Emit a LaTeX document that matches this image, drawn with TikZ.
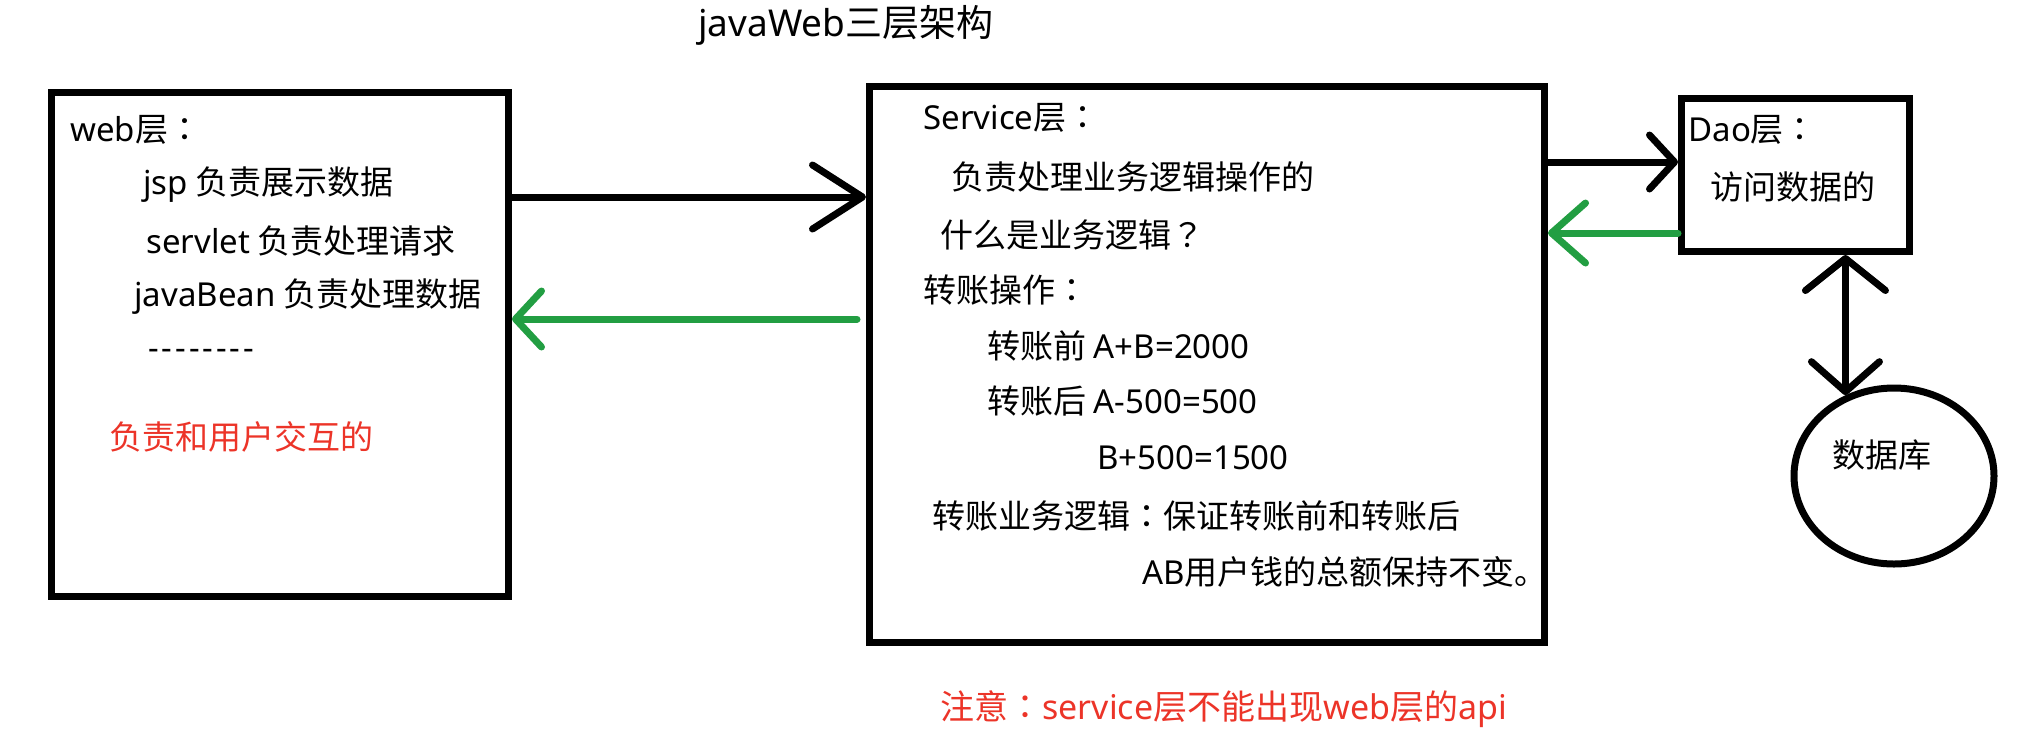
\documentclass[tikz,border=0pt]{standalone}
\usepackage{fontspec}
\setmainfont{Noto Sans CJK SC}
\newfontfamily\latinfont{Noto Sans}
\newfontfamily\punctfont{Noto Sans CJK TC}
\newcommand{\en}[1]{{\latinfont #1}}
\newcommand{\zhcolon}{{\punctfont ：}}
\newcommand{\zhquest}{{\punctfont ？}}
\usepackage{tikz}
\usetikzlibrary{arrows.meta, positioning, shapes, calc}

\definecolor{backgreen}{RGB}{34,158,66}
\definecolor{notered}{RGB}{236,52,40}

\begin{document}
\begin{tikzpicture}[
    x=0.5pt, y=-0.5pt,
    font=\fontsize{16.5}{19}\selectfont,
    layer/.style={rectangle, draw, line width=3.5pt},
    txt/.style={anchor=west, inner sep=0pt},
    flow/.style={line width=3.5pt, line cap=round},
    back/.style={flow, backgreen}
]
    \useasboundingbox (0,0) rectangle (2024,735);

    % Title
    \node[txt, font=\fontsize{18.5}{21}\selectfont] (title) at (698,25) {\en{javaWeb}三层架构};

    % Layers (rectangles) and the database (ellipse)
    \node[layer, minimum width=228.5pt, minimum height=252pt] (web) at (280,344.5) {};
    \node[layer, minimum width=337.5pt, minimum height=278pt] (svc) at (1207,364.5) {};
    \node[layer, minimum width=114pt, minimum height=76.5pt] (dao) at (1795.5,175) {};
    \node[ellipse, draw, line width=3.5pt, minimum width=100pt, minimum height=88pt]
        (db) at (1894,476) {};

    % web layer
    \node[txt] (webhead) at (70,130) {\en{web}层\zhcolon};
    \node[txt] (jsp) at (143,185) {\en{jsp} 负责展示数据};
    \node[txt] (servlet) at (146,241) {\en{servlet} 负责处理请求};
    \node[txt] (bean) at (134,297) {\en{javaBean} 负责处理数据};
    \node[txt] (dots) at (148,354) {\en{\addfontfeature{LetterSpace=9}-{}-{}-{}-{}-{}-{}-{}-}};
    \node[txt, text=notered] (webnote) at (109,437) {负责和用户交互的};

    % Service layer
    \node[txt] (svchead) at (923,118) {\en{Service}层\zhcolon};
    \node[txt] (svcduty) at (951,177) {负责处理业务逻辑操作的};
    \node[txt] (svcask) at (940,235) {什么是业务逻辑\zhquest};
    \node[txt] (transfer) at (923,290) {转账操作\zhcolon};
    \node[txt] (before) at (987,346) {转账前 \en{A+B=2000}};
    \node[txt] (after) at (987,401) {转账后 \en{A-500=500}};
    \node[txt] (afterb) at (1097,458) {\en{B+500=1500}};
    \node[txt] (rule) at (932,516) {转账业务逻辑\zhcolon 保证转账前和转账后};
    \node[txt] (rulecont) at (1142,572) {\en{AB}用户钱的总额保持不变。};

    % Dao layer and database
    \node[txt] (daohead) at (1688,130) {\en{Dao}层\zhcolon};
    \node[txt] (daoduty) at (1710,187) {访问数据的};
    \node (dbtext) at (1882,455) {数据库};

    % Note below
    \node[txt, text=notered, font=\fontsize{17}{20}\selectfont] (apinote) at (940,709)
        {注意\zhcolon\en{service}层不能出现\en{web}层的\en{api}};

    % Connectors
    \coordinate (ya) at (0,197);
    \coordinate (yb) at (0,162);
    \coordinate (yc) at (0,233);
    \coordinate (yd) at (0,319);

    \draw[flow, -{Straight Barb[round, length=25pt, width=32pt]}]
        (web.east |- ya) -- (svc.west |- ya);
    \draw[flow, -{Straight Barb[round, length=12.5pt, width=27pt]}]
        (svc.east |- yb) -- (dao.west |- yb);
    \draw[back, -{Straight Barb[round, length=17pt, width=30pt]}]
        (dao.west |- yc) -- (svc.east |- yc);
    \draw[back, -{Straight Barb[round, length=13pt, width=28pt]}]
        ([xshift=-4.5pt]svc.west |- yd) -- (web.east |- yd);
    \draw[flow, {Straight Barb[round, length=16pt, width=40pt]}-{Straight Barb[round, length=15pt, width=34pt]}]
        (dao.south -| db.121) -- (db.121);

\end{tikzpicture}
\end{document}
